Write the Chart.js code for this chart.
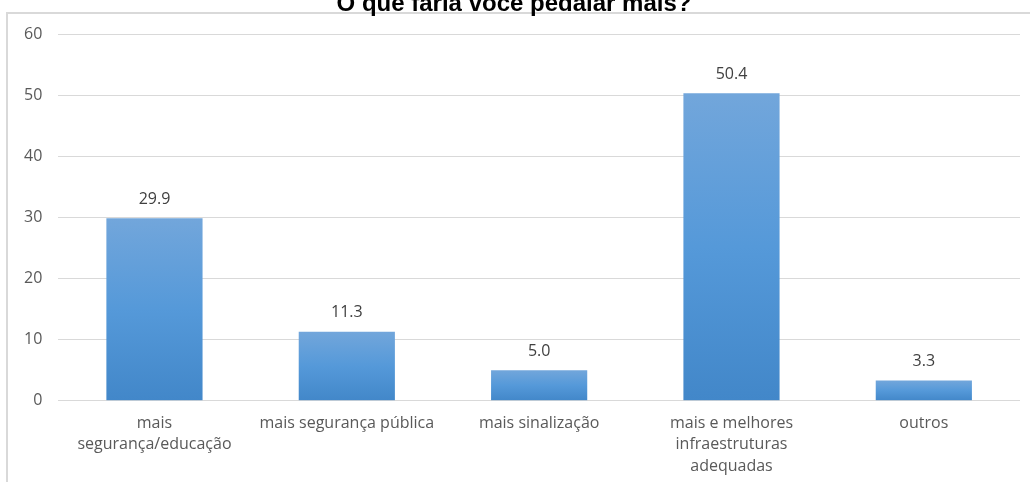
<!DOCTYPE html>
<html>
<head>
<meta charset="utf-8">
<script src="https://cdn.jsdelivr.net/npm/chart.js@4"></script>
<style>
  html, body { margin: 0; padding: 0; background: #fff; overflow: hidden; }
  body { width: 1030px; height: 482px; position: relative; }
  #frame {
    position: absolute; left: 6px; top: 12px; width: 1040px; height: 500px;
    border-left: 2px solid #d9d9d9; border-top: 2px solid #d9d9d9;
  }
  #wrap { position: absolute; left: 0; top: -20px; width: 1030px; height: 514px; }
</style>
</head>
<body>
<div id="frame"></div>
<div id="wrap"><canvas id="chart"></canvas></div>
<script>
  const titleText = 'O que faria você pedalar mais?';
  const categories = [
    ['mais', 'segurança/educação'],
    'mais segurança pública',
    'mais sinalização',
    ['mais e melhores', 'infraestruturas', 'adequadas'],
    'outros'
  ];
  const values = [29.9, 11.3, 5.0, 50.4, 3.3];
  const yMin = 0, yMax = 60, yStep = 10;

  const textFont = '"Open Sans", sans-serif';

  function barGradient(context) {
    const chart = context.chart;
    const y = chart.scales && chart.scales.y;
    if (!chart.chartArea || !y) return '#5599d8';
    const top = y.getPixelForValue(values[context.dataIndex]);
    const base = y.getPixelForValue(0);
    const g = chart.ctx.createLinearGradient(0, top, 0, base);
    g.addColorStop(0, '#72a6db');
    g.addColorStop(0.5, '#5599d9');
    g.addColorStop(1, '#4287c9');
    return g;
  }

  const valueLabels = {
    id: 'valueLabels',
    afterDatasetsDraw(chart) {
      const ctx = chart.ctx;
      const meta = chart.getDatasetMeta(0);
      ctx.save();
      ctx.font = '16px ' + textFont;
      ctx.fillStyle = '#404040';
      ctx.textAlign = 'center';
      ctx.textBaseline = 'middle';
      meta.data.forEach((bar, i) => {
        ctx.fillText(values[i].toFixed(1), bar.x, bar.y - 19);
      });
      ctx.restore();
    }
  };

  new Chart(document.getElementById('chart'), {
    type: 'bar',
    data: {
      labels: categories,
      datasets: [{
        data: values,
        backgroundColor: barGradient,
        borderWidth: 0,
        barPercentage: 0.5,
        categoryPercentage: 1
      }]
    },
    options: {
      responsive: true,
      maintainAspectRatio: false,
      animation: false,
      layout: { padding: { left: 8, right: 10, top: 0, bottom: 5 } },
      plugins: {
        legend: { display: false },
        tooltip: { enabled: false },
        title: {
          display: true,
          text: titleText,
          color: '#000',
          font: { family: '"Liberation Sans", Arial, sans-serif', size: 24, weight: 'bold' },
          padding: { top: 10, bottom: 16 }
        }
      },
      scales: {
        x: {
          grid: { display: false, drawTicks: false },
          border: { display: false },
          ticks: {
            color: '#595959',
            font: { family: textFont, size: 16, lineHeight: 1.34 },
            padding: 12,
            maxRotation: 0,
            autoSkip: false
          }
        },
        y: {
          min: yMin,
          max: yMax,
          grid: { color: '#d9d9d9', drawTicks: false },
          border: { display: false },
          ticks: {
            stepSize: yStep,
            color: '#595959',
            font: { family: textFont, size: 16 },
            padding: 16
          }
        }
      }
    },
    plugins: [valueLabels]
  });
</script>
</body>
</html>
